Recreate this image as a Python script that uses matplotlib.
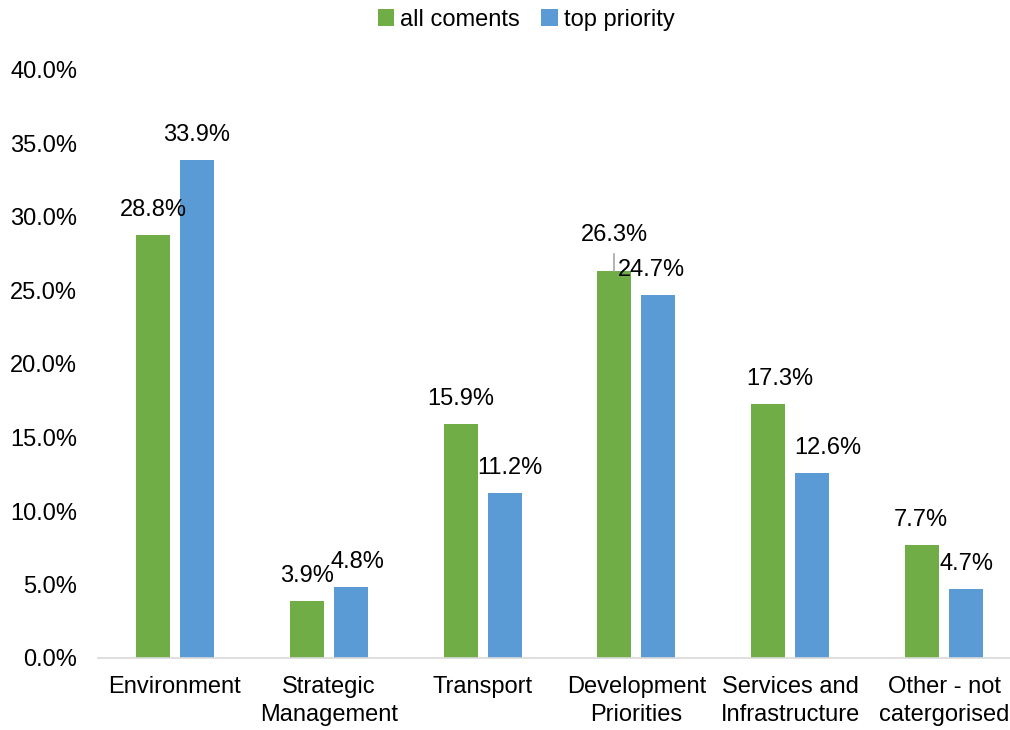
import numpy as np
import matplotlib.pyplot as plt
from matplotlib.ticker import FuncFormatter

plt.rcParams['font.family'] = ['Liberation Sans', 'DejaVu Sans']

categories = ['Environment', 'Strategic\nManagement', 'Transport',
              'Development\nPriorities', 'Services and\nInfrastructure',
              'Other - not\ncatergorised']
all_comments = [28.8, 3.9, 15.9, 26.3, 17.3, 7.7]
top_priority = [33.9, 4.8, 11.2, 24.7, 12.6, 4.7]

# label nudges in points (dx, dy) so neighbouring labels don't collide
green_nudge = [(0, 0), (0, 0), (0, 0), (0, 8), (8, 0), (-1, 0)]
blue_nudge = [(0, 0), (5, 0), (4, 0), (-5, 0), (11, 0), (0, 0)]

green = '#70AD47'
blue = '#5B9BD5'
fs = 17

fig = plt.figure(figsize=(10.1, 7.3), dpi=100)
ax = fig.add_axes([98 / 1010, 1 - 658 / 730, 923 / 1010, 588 / 730])

x = np.arange(len(categories))
w = 0.221
off = 0.143
b1 = ax.bar(x - off, all_comments, w, color=green, label='all coments')
b2 = ax.bar(x + off, top_priority, w, color=blue, label='top priority')

for bars, vals, nudge in [(b1, all_comments, green_nudge), (b2, top_priority, blue_nudge)]:
    for rect, v, (dx, dy) in zip(bars, vals, nudge):
        cx = rect.get_x() + rect.get_width() / 2
        ax.annotate('%.1f%%' % v, (cx, v), xytext=(dx, 18 + dy),
                    textcoords='offset points', ha='center', va='center',
                    fontsize=fs, color='black')

# leader line for the development priorities label
ax.plot([x[3] - off, x[3] - off], [26.3, 27.5], color='#A6A6A6', lw=1.2, zorder=1)

ax.set_ylim(0, 40)
ax.set_xlim(-0.5, len(categories) - 0.5)
ax.set_yticks(np.arange(0, 40.1, 5))
ax.yaxis.set_major_formatter(FuncFormatter(lambda v, p: '%.1f%%' % v))
ax.set_xticks(x)
ax.set_xticklabels(categories, linespacing=1.35)
ax.tick_params(axis='both', length=0, labelsize=fs, colors='black')
ax.tick_params(axis='y', pad=15)
ax.tick_params(axis='x', pad=13)
for s in ['top', 'right', 'left']:
    ax.spines[s].set_visible(False)
ax.spines['bottom'].set_color('#D9D9D9')
ax.spines['bottom'].set_linewidth(1.2)

fig.legend(loc='upper center', bbox_to_anchor=(526 / 1010, 1.017), ncol=2,
           frameon=False, fontsize=fs, handlelength=0.7, handleheight=0.7,
           handletextpad=0.25, columnspacing=0.9)

fig.savefig('out.png', dpi=100)
